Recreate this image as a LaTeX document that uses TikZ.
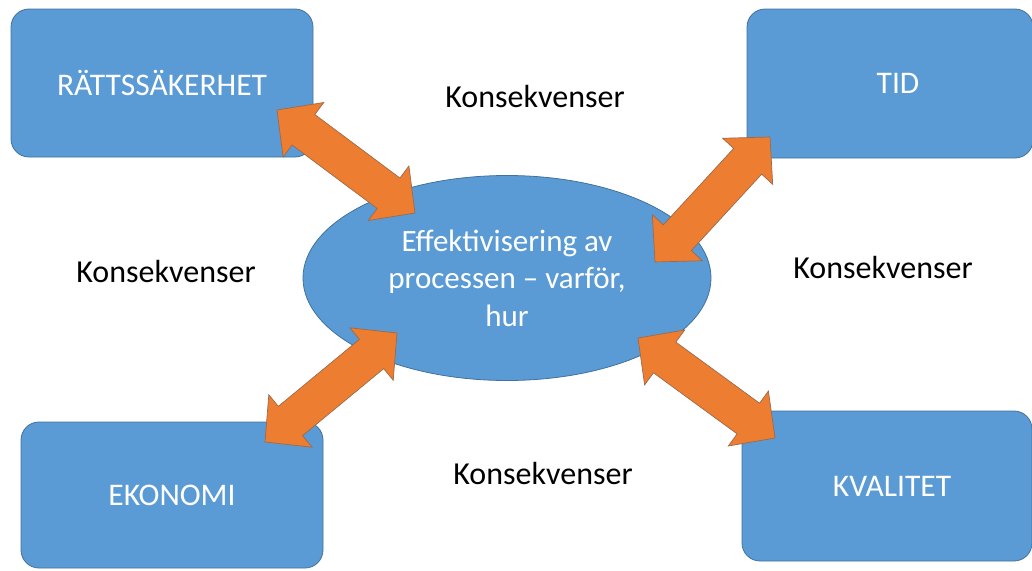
\documentclass[tikz,border=0pt]{standalone}
\usepackage{fontspec}
\setmainfont{Carlito}
\usetikzlibrary{calc,shapes.geometric}

\definecolor{boxblue}{HTML}{5B9BD5}
\definecolor{boxedge}{HTML}{41719C}
\definecolor{arrowfill}{HTML}{ED7D31}
\definecolor{arrowedge}{HTML}{9C6A4A}

\tikzset{
  topic/.style={draw=boxedge, fill=boxblue, line width=0.8pt, rounded corners=18pt,
    text=white, font=\fontsize{31.5}{37}\selectfont, inner sep=0pt},
  core/.style={ellipse, draw=boxedge, fill=boxblue, line width=0.8pt,
    text=white, font=\fontsize{31}{37.5}\selectfont, align=center, inner sep=0pt},
  effect/.style={text=black, font=\fontsize{32}{38}\selectfont, inner sep=0pt},
  blockarrow/.style={fill=arrowfill, draw=arrowedge, line width=0.7pt, line join=miter},
}

% head length, head half-width, shaft half-width
\newcommand\headlen{33pt}
\newcommand\headhalf{34pt}
\newcommand\shafthalf{19pt}

% double-headed block arrow between two named points
\newcommand\twowayarrow[2]{%
  \filldraw[blockarrow] (#1)
    -- ($(#1)!\headlen!(#2)!\headhalf!90:(#2)$)
    -- ($(#1)!\headlen!(#2)!\shafthalf!90:(#2)$)
    -- ($(#2)!\headlen!(#1)!\shafthalf!-90:(#1)$)
    -- ($(#2)!\headlen!(#1)!\headhalf!-90:(#1)$)
    -- (#2)
    -- ($(#2)!\headlen!(#1)!\headhalf!90:(#1)$)
    -- ($(#2)!\headlen!(#1)!\shafthalf!90:(#1)$)
    -- ($(#1)!\headlen!(#2)!\shafthalf!-90:(#2)$)
    -- ($(#1)!\headlen!(#2)!\headhalf!-90:(#2)$)
    -- cycle;}

\begin{document}
\begin{tikzpicture}[x=1pt, y=-1pt]
  \useasboundingbox (0,0) rectangle (1032,570);

  % four topic boxes
  \node[topic, minimum width=302pt, minimum height=148pt] (rs) at (162,83) {RÄTTSSÄKERHET};
  \node[topic, minimum width=286pt, minimum height=149pt] (tid) at (890,83.5) {\hspace*{16pt}TID};
  \node[topic, minimum width=302pt, minimum height=146pt] (eko) at (172,495) {EKONOMI};
  \node[topic, minimum width=290pt, minimum height=150pt] (kval) at (887,486) {\hspace*{10pt}KVALITET};

  % central process
  \node[core, minimum width=408pt, minimum height=205pt] (proc) at (507,278)
    {Effektivisering av\\processen -- varför,\\hur};

  % consequence labels
  \node[effect] (k1) at (535,97) {Konsekvenser};
  \node[effect] (k2) at (166,272) {Konsekvenser};
  \node[effect] (k3) at (883,268) {Konsekvenser};
  \node[effect] (k4) at (543,473) {Konsekvenser};

  % arrow end points
  \coordinate (rsA) at (277,110);  \coordinate (rsB) at (415,213);
  \coordinate (tidA) at (770,137); \coordinate (tidB) at (655,262);
  \coordinate (ekoA) at (265,442); \coordinate (ekoB) at (397,333);
  \coordinate (kvA) at (775,438);  \coordinate (kvB) at (638,338);

  \twowayarrow{rsA}{rsB}
  \twowayarrow{tidA}{tidB}
  \twowayarrow{ekoA}{ekoB}
  \twowayarrow{kvA}{kvB}
\end{tikzpicture}
\end{document}
